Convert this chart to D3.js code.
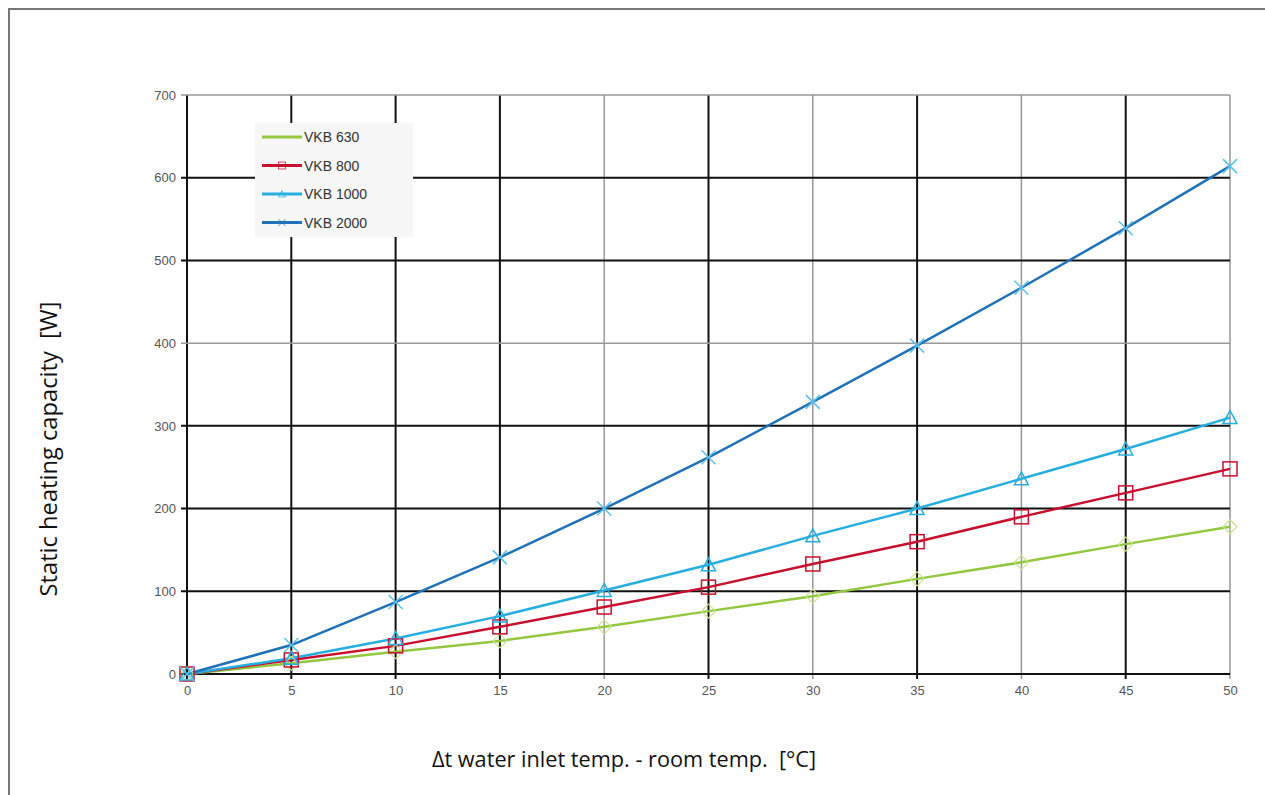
<!DOCTYPE html>
<html><head><meta charset="utf-8">
<script src="https://cdn.jsdelivr.net/npm/d3@7/dist/d3.min.js"></script>
<style>body{margin:0;background:#fff}svg{display:block}.pre{white-space:pre}</style>
</head><body>
<svg id="chart" width="1265" height="795"></svg>
<script>
const xValues = [0,5,10,15,20,25,30,35,40,45,50];
const seriesNames = ["VKB 630","VKB 800","VKB 1000","VKB 2000"];
const vkb630  = [0,13,27,40,57,76,94,115,135,157,178];
const vkb800  = [0,17,34,57,81,105,133,160,190,219,248];
const vkb1000 = [0,19,43,70,101,132,167,200,236,272,310];
const vkb2000 = [0,35,87,141,200,262,329,397,467,539,614];
const xTicks = [0,5,10,15,20,25,30,35,40,45,50];
const yTicks = [0,100,200,300,400,500,600,700];
const xTitle = "Δt water inlet temp. - room temp.  [°C]";
const yTitle = "Static heating capacity  [W]";

const series = [
  {name: seriesNames[0], values: vkb630, color: "#92c83e", marker: "diamond", mcolor:"#c8e68a"},
  {name: seriesNames[1], values: vkb800, color: "#c8102e", marker: "square", mcolor:"#c8102e"},
  {name: seriesNames[2], values: vkb1000, color: "#27aee0", marker: "triangle", mcolor:"#27aee0"},
  {name: seriesNames[3], values: vkb2000, color: "#1f72b8", marker: "x", mcolor:"#5cc3ee"}
];

const svg = d3.select("#chart");
svg.append("path").attr("d","M9,795 L9,9 L1265,9").attr("fill","none").attr("stroke","#777").attr("stroke-width",2);

const x = d3.scaleLinear().domain([0,50]).range([187,1230]);
const y = d3.scaleLinear().domain([0,700]).range([674,95]);

const g = svg.append("g");
const darkX = new Set([0,5,10,15,25,35,45]);
const darkY = new Set([0,100,200,300,500,600]);
g.selectAll(".vg").data(xTicks).join("line")
  .attr("x1",d=>x(d)).attr("x2",d=>x(d)).attr("y1",y(700)).attr("y2",y(0)+5)
  .attr("stroke",d=>darkX.has(d)?"#111":"#999").attr("stroke-width",d=>darkX.has(d)?2:1.5);
g.selectAll(".hg").data(yTicks).join("line")
  .attr("x1",x(0)-6).attr("x2",x(50)).attr("y1",d=>y(d)).attr("y2",d=>y(d))
  .attr("stroke",d=>darkY.has(d)?"#111":"#999").attr("stroke-width",d=>darkY.has(d)?2:1.5);

const yAxis = d3.axisLeft(y).tickValues(yTicks).tickSize(0).tickPadding(0);
const ya = svg.append("g").attr("transform",`translate(${x(0)-11},0)`).call(yAxis);
ya.select(".domain").remove();
ya.selectAll("text").attr("font-family","Liberation Sans, Arial").attr("font-size",13).attr("fill","#555");
const xAxis = d3.axisBottom(x).tickValues(xTicks).tickSize(0).tickPadding(0);
const xa = svg.append("g").attr("transform",`translate(0,${y(0)+12})`).call(xAxis);
xa.select(".domain").remove();
xa.selectAll("text").attr("font-family","Liberation Sans, Arial").attr("font-size",13).attr("fill","#555");

const line = d3.line().x((d,i)=>x(xValues[i])).y(d=>y(d));
function drawMarker(sel, type, color){
  if(type==="square"){
    sel.append("rect").attr("x",-7).attr("y",-7).attr("width",14).attr("height",14).attr("fill","none").attr("stroke",color).attr("stroke-width",1.5);
  } else if(type==="triangle"){
    sel.append("path").attr("d","M0,-7 L7,6 L-7,6 Z").attr("fill","none").attr("stroke",color).attr("stroke-width",1.5);
  } else if(type==="diamond"){
    sel.append("path").attr("d","M0,-7 L7,0 L0,7 L-7,0 Z").attr("fill","none").attr("stroke",color).attr("stroke-width",1.2);
  } else {
    sel.append("path").attr("d","M-7,-7 L7,7 M-7,7 L7,-7").attr("fill","none").attr("stroke",color).attr("stroke-width",1.5);
  }
}
series.forEach(s=>{
  g.append("path").datum(s.values).attr("d",line).attr("fill","none").attr("stroke",s.color).attr("stroke-width",2.5);
});
series.forEach(s=>{
  s.values.forEach((v,i)=>{
    const m = g.append("g").attr("transform",`translate(${x(xValues[i])},${y(v)})`);
    drawMarker(m, s.marker, s.mcolor);
  });
});

const lg = svg.append("g");
lg.append("rect").attr("x",255).attr("y",123).attr("width",158).attr("height",114).attr("fill","#f7f7f7");
series.forEach((s,i)=>{
  const yy = 137 + i*28.5;
  lg.append("line").attr("x1",262).attr("x2",302).attr("y1",yy).attr("y2",yy).attr("stroke",s.color).attr("stroke-width",3);
  const mg = lg.append("g").attr("transform",`translate(282,${yy}) scale(0.5)`);
  if(i>0) drawMarker(mg, s.marker, s.color);
  lg.append("text").attr("x",304).attr("y",yy+5).text(s.name)
    .attr("font-family","Liberation Sans, Arial").attr("font-size",14).attr("fill","#333");
});

svg.append("text").attr("class","pre").attr("x",624).attr("y",767).attr("text-anchor","middle")
  .attr("font-family","Open Sans, Noto Sans, sans-serif").attr("font-size",21.7).attr("fill","#111").text(xTitle);
svg.append("text").attr("class","pre").attr("transform","translate(57,449) rotate(-90)").attr("text-anchor","middle")
  .attr("font-family","Open Sans, Noto Sans, sans-serif").attr("font-size",23.7).attr("fill","#111").text(yTitle);
</script>
</body></html>
